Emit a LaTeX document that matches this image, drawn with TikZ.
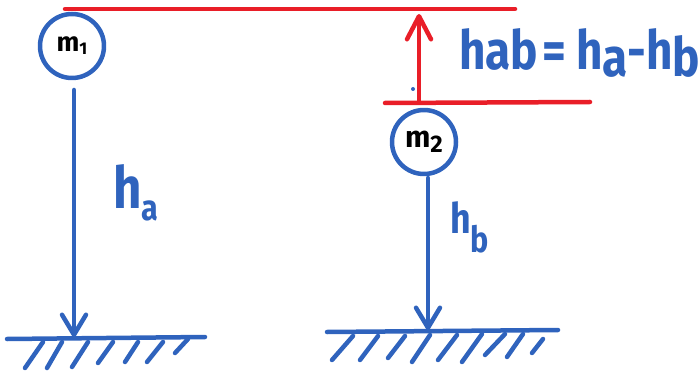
\documentclass[tikz,border=0pt]{standalone}
\usepackage{fontspec}
\setmainfont{Fira Sans}
\newfontfamily\hand[FakeStretch=0.85]{Fira Sans}
\usetikzlibrary{arrows.meta}
\definecolor{pblue}{RGB}{47,99,189}
\definecolor{pred}{RGB}{233,30,40}
\begin{document}
\begin{tikzpicture}[x=1pt,y=-1pt,line cap=round,line join=round,
  bl/.style={draw=pblue,line width=4.5pt},
  rd/.style={draw=pred,line width=4.5pt},
  mass/.style={circle,draw=pblue,line width=4.5pt,minimum size=64pt,inner sep=0pt},
  barbblue/.style={-{Straight Barb[length=20pt,width=24pt,round]}},
  barbred/.style={-{Straight Barb[length=23pt,width=24pt,round]}},
  hatch/.style={draw=pblue,line width=4.5pt},
  lbl/.style={text=pblue,inner sep=0pt,anchor=base west,font=\hand\bfseries},
  mlbl/.style={text=black,font=\bfseries}]
\useasboundingbox (0,0) rectangle (700,371);
% red reference lines
\coordinate (rt1) at (65,9);
\coordinate (rt2) at (515,9);
\coordinate (rb1) at (385,103);
\coordinate (rb2) at (590,102);
\coordinate (rup0) at (419,101);
\coordinate (rup1) at (419,14);
\draw[rd] (rt1) -- (rt2);
\draw[rd] (rb1) -- (rb2);
\draw[rd,barbred] (rup0) -- (rup1);
% masses
\node[mass,mlbl] (m1) at (72,46) {\fontsize{27}{27}\selectfont m\raisebox{-3pt}{\fontsize{17}{17}\selectfont 1}};
\node[mass,mlbl] (m2) at (424,142) {\fontsize{30}{30}\selectfont m\raisebox{-5pt}{\fontsize{24}{24}\selectfont 2}};
% grounds
\coordinate (gl1) at (7,339);
\coordinate (gr1) at (205,337);
\coordinate (gl2) at (327,332);
\coordinate (gr2) at (558,330);
\draw[bl] (gl1) -- (gr1);
\draw[bl] (gl2) -- (gr2);
\foreach \a/\b/\c/\d in {43/342/25/368,62/342/47/368,88/342/72/367,113/342/98/363,138/342/125/362,163/342/147/362,188/339/175/353}
  \draw[hatch] (\a,\b) -- (\c,\d);
\foreach \a/\b/\c/\d in {353/336/332/360,378/336/360/360,405/336/388/358,430/335/412/362,457/335/438/360,482/334/462/362,505/334/485/355,523/334/507/357,543/339/532/353}
  \draw[hatch] (\a,\b) -- (\c,\d);
% height arrows
\coordinate (a1) at (74,90);
\coordinate (g1) at (74,337);
\coordinate (a2) at (428,178);
\coordinate (g2) at (428,330);
\draw[bl,barbblue] (a1) -- (g1);
\draw[bl,barbblue] (a2) -- (g2);
\fill[pblue] (413,89) circle (2);
% labels
\node[lbl] (ha) at (113,208) {\fontsize{58}{58}\selectfont h\raisebox{-12pt}{\fontsize{36}{36}\selectfont a}};
\node[lbl] (hb) at (450,233) {\fontsize{42}{42}\selectfont h\raisebox{-19pt}{\fontsize{36}{36}\selectfont b}};
\node[lbl] (hab) at (459,70) {\fontsize{54}{54}\selectfont hab\hspace{4pt}=\hspace{10pt}h\raisebox{-7pt}{a}-h\raisebox{-7pt}{b}};
\end{tikzpicture}
\end{document}
